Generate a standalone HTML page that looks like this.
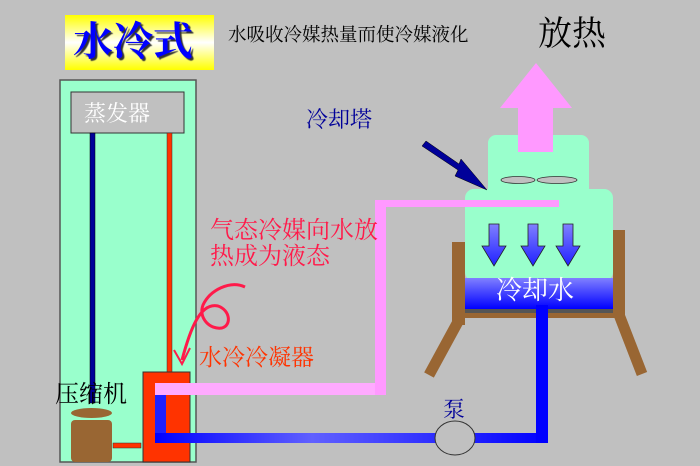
<!DOCTYPE html>
<html><head><meta charset="utf-8"><style>
body{margin:0;background:#c0c0c0;}
#c{position:relative;width:700px;height:466px;overflow:hidden;background:#c0c0c0;font-family:"Liberation Serif","Noto Serif CJK SC","Noto Sans CJK SC",serif;}
.t{position:absolute;white-space:nowrap;line-height:1;}
</style></head><body><div id="c">
<svg width="700" height="466" style="position:absolute;left:0;top:0">
<defs>
<linearGradient id="yel" x1="0" y1="0" x2="0" y2="1"><stop offset="0" stop-color="#ffff00"/><stop offset="0.5" stop-color="#ffffff"/><stop offset="1" stop-color="#ffff00"/></linearGradient>
<linearGradient id="band" x1="0" y1="0" x2="0" y2="1"><stop offset="0" stop-color="#8080ff"/><stop offset="1" stop-color="#0000ff"/></linearGradient>
<linearGradient id="arr" x1="0" y1="0" x2="0" y2="1"><stop offset="0" stop-color="#8080ff"/><stop offset="1" stop-color="#2020ff"/></linearGradient>
<linearGradient id="bp" x1="0" y1="0" x2="1" y2="0"><stop offset="0" stop-color="#0000ff"/><stop offset="0.4" stop-color="#6060ff"/><stop offset="1" stop-color="#0000ff"/></linearGradient>
</defs>
<rect x="65" y="15" width="149" height="55" fill="url(#yel)"/>
<!-- main box -->
<rect x="60" y="80" width="136" height="382" fill="#99ffcc" stroke="#555" stroke-width="1.5"/>
<rect x="71" y="92" width="113" height="41" fill="#c0c0c0" stroke="#333" stroke-width="1"/>
<rect x="90" y="133" width="5" height="270" fill="#000099" stroke="#000" stroke-width="0.5"/>
<rect x="167" y="133" width="5" height="239" fill="#ff3300" stroke="#333" stroke-width="0.5"/>
<rect x="113" y="443" width="28" height="5" fill="#ff3300" stroke="#333" stroke-width="0.5"/>
<rect x="71" y="420" width="41" height="42" rx="4" fill="#996633"/>
<ellipse cx="91.5" cy="413" rx="20.5" ry="5" fill="#996633"/>
<rect x="143" y="372" width="47" height="90" fill="#ff3300" stroke="#333" stroke-width="1"/>
<!-- pipes -->
<rect x="155" y="383" width="231" height="12" fill="#ffaaff"/>
<rect x="375" y="200" width="11" height="195" fill="#ff99ff"/>
<rect x="375" y="200" width="184" height="7" fill="#ff99ff"/>
<rect x="155" y="395" width="11" height="48" fill="#2020ff"/>
<rect x="155" y="433" width="393" height="10" fill="url(#bp)"/>
<rect x="536" y="305" width="12" height="138" fill="#0000ff"/>
<ellipse cx="455" cy="438" rx="20" ry="17" fill="#c0c0c0" stroke="#333" stroke-width="1"/>
<!-- tower frame -->
<rect x="452" y="242" width="13" height="83" fill="#996633"/>
<rect x="613" y="230" width="12" height="82" fill="#996633"/>
<rect x="452" y="308" width="173" height="10" fill="#996633"/>
<line x1="460" y1="318" x2="429" y2="375" stroke="#996633" stroke-width="11"/>
<line x1="618" y1="312" x2="642" y2="374" stroke="#996633" stroke-width="11"/>
<rect x="488" y="135" width="101" height="70" rx="8" fill="#99ffcc"/>
<rect x="465" y="189" width="148" height="92" rx="9" fill="#99ffcc"/>
<rect x="465" y="279" width="148" height="34" fill="#555"/>
<rect x="465" y="278" width="148" height="31" fill="url(#band)"/>
<rect x="375" y="200" width="184" height="7" fill="#ff99ff"/>
<rect x="536" y="305" width="12" height="50" fill="#0000ff"/>
<ellipse cx="518" cy="180" rx="17" ry="3.5" fill="#c0c0c0" stroke="#333" stroke-width="0.8"/>
<ellipse cx="557" cy="180" rx="20" ry="3.5" fill="#c0c0c0" stroke="#333" stroke-width="0.8"/>
<g fill="url(#arr)" stroke="#222" stroke-width="0.8">
<path d="M489 224h10v22h7l-12 20-12-20h7z"/>
<path d="M528 224h10v22h7l-12 20-12-20h7z"/>
<path d="M563 224h10v22h7l-12 20-12-20h7z"/>
</g>
<!-- pink up arrow -->
<path d="M518 152V108H500L536 63L572 108H553V152Z" fill="#ff99ff"/>
<!-- dark blue arrow -->
<path d="M422 146L426 141L459 164L461 159L487 190L455 176L458 170Z" fill="#000099" stroke="#000" stroke-width="0.5"/>
<!-- squiggle -->
<path d="M245 287C230 280 210 290 203 305C198 318 210 330 222 328C232 325 230 310 218 306C200 302 190 330 182 360" fill="none" stroke="#ff1a4a" stroke-width="3"/>
<path d="M174 350L182 364L190 348" fill="none" stroke="#ff1a4a" stroke-width="2"/>
</svg>
<div class="t" style="left:73px;top:22px;font-size:40px;color:#0000ff;font-weight:bold;text-shadow:2px 2px 1px #333;">水冷式</div>
<div class="t" style="left:228px;top:27px;font-size:18.5px;color:#000;">水吸收冷媒热量而使冷媒液化</div>
<div class="t" style="left:538px;top:18px;font-size:34px;color:#000;">放热</div>
<div class="t" style="left:306px;top:109px;font-size:22px;color:#000099;">冷却塔</div>
<div class="t" style="left:84px;top:103px;font-size:22px;color:#fff;">蒸发器</div>
<div class="t" style="left:210px;top:219px;font-size:24px;color:#ff1a4a;">气态冷媒向水放</div>
<div class="t" style="left:210px;top:245px;font-size:24px;color:#ff1a4a;">热成为液态</div>
<div class="t" style="left:199px;top:346px;font-size:23px;color:#ff3300;">水冷冷凝器</div>
<div class="t" style="left:55px;top:383px;font-size:24px;color:#000;">压缩机</div>
<div class="t" style="left:443px;top:399px;font-size:22px;color:#000099;">泵</div>
<div class="t" style="left:496px;top:278px;font-size:26px;color:#fff;">冷却水</div>
</div></body></html>
